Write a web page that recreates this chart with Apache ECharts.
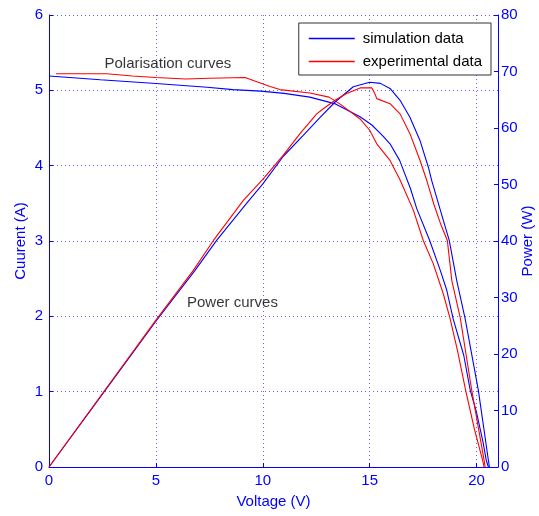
<!DOCTYPE html>
<html>
<head>
<meta charset="utf-8">
<script src="https://cdn.jsdelivr.net/npm/echarts@6/dist/echarts.min.js"></script>
<style>
  html, body { margin: 0; padding: 0; background: #fff; }
  #chart { width: 539px; height: 516px; }
</style>
</head>
<body>
<div id="chart"></div>
<script>
// Voltage / current (polarisation) curves, simulation model
const simIvVoltage = [0, 2.4, 5.0, 7.4, 8.6, 9.9, 11.0, 12.2, 13.4, 14.55, 15.1, 15.6, 15.95, 16.4, 16.9, 17.2, 17.8, 18.3, 18.6, 18.9, 19.4, 19.7, 20.0, 20.3, 20.45, 20.55];
const simIvCurrent = [5.19, 5.14, 5.09, 5.04, 5.01, 4.99, 4.96, 4.91, 4.82, 4.65, 4.54, 4.40, 4.29, 4.07, 3.70, 3.43, 3.01, 2.61, 2.35, 1.97, 1.48, 1.02, 0.72, 0.33, 0.09, 0];

// Voltage / current curve, measured
const expIvVoltage = [0.33, 2.7, 3.9, 5.0, 6.4, 7.5, 9.17, 9.56, 10.34, 10.8, 12.2, 13.1, 13.6, 14.55, 15.0, 15.33, 15.95, 16.42, 17.04, 17.5, 17.97, 18.44, 18.76, 19.1, 19.5, 19.9, 20.28, 20.35];
const expIvCurrent = [5.22, 5.22, 5.19, 5.17, 5.15, 5.16, 5.17, 5.13, 5.05, 5.01, 4.965, 4.91, 4.82, 4.62, 4.47, 4.29, 4.07, 3.81, 3.41, 3.01, 2.70, 2.30, 1.97, 1.55, 1.00, 0.50, 0.09, 0];

// Power curves, simulation model
const simPvVoltage = [0, 2.5, 5.0, 6.83, 7.84, 9.25, 10.02, 10.96, 11.89, 12.68, 13.38, 14.23, 15.0, 15.5, 15.95, 16.42, 16.88, 17.35, 17.74, 17.9, 18.44, 18.72, 19.07, 19.46, 20.08, 20.55, 20.6];
const simPvPower = [0, 12.9, 25.8, 34.8, 40.1, 46.7, 50.2, 55.0, 58.7, 61.9, 64.6, 67.3, 68.1, 67.9, 67.0, 64.9, 61.9, 57.8, 53.1, 50.7, 43.7, 40.1, 33.0, 26.3, 13.6, 1.2, 0];

// Power curves, measured
const expPvVoltage = [0, 2.5, 5.0, 6.75, 7.69, 9.09, 10.02, 10.96, 11.74, 12.52, 12.83, 13.38, 13.92, 14.55, 15.1, 15.25, 15.33, 15.95, 16.42, 16.88, 17.35, 17.67, 18.0, 18.3, 18.63, 18.84, 19.23, 19.77, 20.35, 20.4];
const expPvPower = [0, 13.0, 26.0, 34.8, 40.1, 47.2, 51.0, 55.2, 59.0, 62.5, 63.4, 64.9, 66.1, 67.1, 67.1, 66.0, 65.2, 64.3, 62.5, 59.0, 54.3, 50.7, 46.5, 43.2, 40.1, 33.0, 26.5, 13.6, 1.2, 0];

// Axis ranges and tick steps
const voltageRange = [0, 21, 5];
const currentRange = [0, 6, 1];
const powerRange = [0, 80, 10];

// Legend entries and in-plot notes: [text, voltage, current]
const legendNames = ['simulation data', 'experimental data'];
const notes = [
  ['Polarisation curves', 5.56, 5.355],
  ['Power curves', 8.58, 2.18]
];

const pairs = (xs, ys) => xs.map((x, i) => [x, ys[i]]);

const BLUE = '#0000ff';
const RED = '#ff0000';
const FONT = 'Liberation Sans, Arial, Helvetica, sans-serif';

const gridDots = { show: true, lineStyle: { color: '#6464ff', type: [1, 3], width: 1 } };

const chart = echarts.init(document.getElementById('chart'), null, { renderer: 'canvas' });

const lineSeries = (name, data, color, yIndex) => ({
  name, type: 'line', data, yAxisIndex: yIndex,
  symbol: 'none', smooth: false, animation: false,
  lineStyle: { color, width: 1.1 }, itemStyle: { color }
});

chart.setOption({
  animation: false,
  backgroundColor: '#ffffff',
  textStyle: { fontFamily: FONT },
  grid: { left: 49, right: 41, top: 15, bottom: 49, containLabel: false, outerBoundsMode: 'none' },
  legend: {
    data: legendNames.map(n => ({ name: n, icon: 'rect' })),
    orient: 'vertical',
    right: 48,
    top: 23,
    backgroundColor: '#ffffff',
    borderColor: '#333333',
    borderWidth: 1,
    borderRadius: 0,
    padding: [8, 9, 6, 10],
    itemWidth: 46,
    itemHeight: 1.3,
    itemGap: 8,
    textStyle: { fontFamily: FONT, fontSize: 15, color: '#000', padding: [0, 0, 0, 3], lineHeight: 14 }
  },
  xAxis: {
    type: 'value',
    min: voltageRange[0], max: voltageRange[1], interval: voltageRange[2],
    name: 'Voltage (V)', nameLocation: 'middle', nameGap: 27, nameMoveOverlap: false,
    nameTextStyle: { color: BLUE, fontSize: 15, fontFamily: FONT },
    axisLine: { show: true, onZero: false, lineStyle: { color: BLUE, width: 1 } },
    axisTick: { show: true, inside: true, length: 4, lineStyle: { color: BLUE } },
    axisLabel: {
      color: BLUE, fontSize: 15, fontFamily: FONT, margin: 6,
      formatter: v => (v % voltageRange[2] === 0 ? String(v) : '')
    },
    splitLine: gridDots
  },
  yAxis: [
    {
      type: 'value', position: 'left',
      min: currentRange[0], max: currentRange[1], interval: currentRange[2],
      name: 'Cuurent (A)', nameLocation: 'middle', nameGap: 21, nameMoveOverlap: false,
      nameTextStyle: { color: BLUE, fontSize: 15, fontFamily: FONT },
      axisLine: { show: true, lineStyle: { color: BLUE, width: 1 } },
      axisTick: { show: true, inside: true, length: 4, lineStyle: { color: BLUE } },
      axisLabel: { color: BLUE, fontSize: 15, fontFamily: FONT, margin: 6 },
      splitLine: gridDots
    },
    {
      type: 'value', position: 'right',
      min: powerRange[0], max: powerRange[1], interval: powerRange[2],
      name: 'Power (W)', nameLocation: 'middle', nameGap: 22, nameMoveOverlap: false,
      nameTextStyle: { color: BLUE, fontSize: 15, fontFamily: FONT },
      axisLine: { show: true, lineStyle: { color: BLUE, width: 1 } },
      axisTick: { show: true, inside: true, length: 4, lineStyle: { color: BLUE } },
      axisLabel: { color: BLUE, fontSize: 15, fontFamily: FONT, margin: 3 },
      splitLine: { show: false }
    }
  ],
  series: [
    lineSeries(legendNames[0], pairs(simIvVoltage, simIvCurrent), BLUE, 0),
    lineSeries(legendNames[1], pairs(expIvVoltage, expIvCurrent), RED, 0),
    lineSeries(legendNames[0], pairs(simPvVoltage, simPvPower), BLUE, 1),
    lineSeries(legendNames[1], pairs(expPvVoltage, expPvPower), RED, 1),
    {
      name: 'notes', type: 'scatter', yAxisIndex: 0, silent: true,
      symbolSize: 0, animation: false,
      data: notes.map(n => ({ name: n[0], value: [n[1], n[2]] })),
      label: {
        show: true, position: 'inside', formatter: p => p.name,
        color: '#000', fontSize: 15, fontFamily: FONT
      }
    }
  ]
});
</script>
</body>
</html>
